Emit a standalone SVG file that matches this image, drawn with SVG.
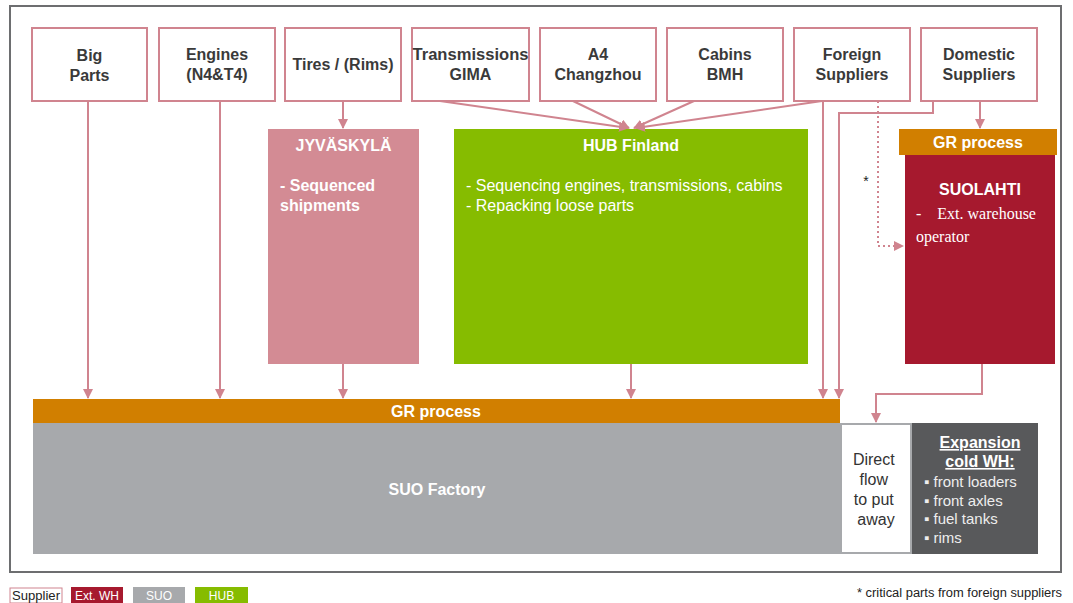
<svg xmlns="http://www.w3.org/2000/svg" width="1073" height="603" viewBox="0 0 1073 603">
  <defs>
    <marker id="arrow" viewBox="0 0 10 10" refX="9" refY="5" markerWidth="10" markerHeight="10" markerUnits="userSpaceOnUse" orient="auto">
      <path d="M0,0 L10,5 L0,10 z" fill="#d0848f"/>
    </marker>
    <style>
      .supplier rect { fill: #ffffff; stroke: #d0848f; stroke-width: 2; }
      .lbl { font-family: "Liberation Sans", Arial, sans-serif; font-weight: bold; font-size: 16px; fill: #3a3a3a; text-anchor: middle; }
      .wt { font-family: "Liberation Sans", Arial, sans-serif; font-weight: bold; font-size: 16px; fill: #ffffff; }
      .wr { font-family: "Liberation Sans", Arial, sans-serif; font-size: 16px; fill: #ffffff; }
      .conn { fill: none; stroke: #d0848f; stroke-width: 2; }
      .dot { fill: none; stroke: #d0848f; stroke-width: 2; stroke-dasharray: 2 3; }
      .leg { font-family: "Liberation Sans", Arial, sans-serif; font-size: 12px; text-anchor: middle; }
    </style>
  </defs>

  <rect x="0" y="0" width="1073" height="603" fill="#ffffff"/>
  <!-- outer frame -->
  <rect x="10" y="6" width="1051" height="566" fill="none" stroke="#6d6e70" stroke-width="2"/>

  <!-- supplier boxes -->
  <g id="big-parts" class="supplier">
    <rect x="32" y="28" width="115" height="73"/>
    <text class="lbl" x="89.5" y="61">Big</text>
    <text class="lbl" x="89.5" y="81">Parts</text>
  </g>
  <g id="engines" class="supplier">
    <rect x="159" y="28" width="116" height="73"/>
    <text class="lbl" x="217" y="60">Engines</text>
    <text class="lbl" x="217" y="80">(N4&amp;T4)</text>
  </g>
  <g id="tires" class="supplier">
    <rect x="285" y="28" width="116" height="73"/>
    <text class="lbl" x="343" y="70">Tires / (Rims)</text>
  </g>
  <g id="transmissions" class="supplier">
    <rect x="412" y="28" width="117" height="73"/>
    <text class="lbl" x="470.5" y="60" textLength="116" lengthAdjust="spacingAndGlyphs">Transmissions</text>
    <text class="lbl" x="470.5" y="80">GIMA</text>
  </g>
  <g id="a4" class="supplier">
    <rect x="540" y="28" width="116" height="73"/>
    <text class="lbl" x="598" y="60">A4</text>
    <text class="lbl" x="598" y="80">Changzhou</text>
  </g>
  <g id="cabins" class="supplier">
    <rect x="667" y="28" width="116" height="73"/>
    <text class="lbl" x="725" y="60">Cabins</text>
    <text class="lbl" x="725" y="80">BMH</text>
  </g>
  <g id="foreign" class="supplier">
    <rect x="794" y="28" width="116" height="73"/>
    <text class="lbl" x="852" y="60">Foreign</text>
    <text class="lbl" x="852" y="80">Suppliers</text>
  </g>
  <g id="domestic" class="supplier">
    <rect x="921" y="28" width="116" height="73"/>
    <text class="lbl" x="979" y="60">Domestic</text>
    <text class="lbl" x="979" y="80">Suppliers</text>
  </g>

  <!-- JYVÄSKYLÄ -->
  <g id="jyvaskyla">
    <rect x="268" y="129" width="151" height="235" fill="#d38b94"/>
    <text class="wt" x="343.5" y="151" text-anchor="middle">JYVÄSKYLÄ</text>
    <text class="wt" x="280" y="191">- Sequenced</text>
    <text class="wt" x="280" y="211">shipments</text>
  </g>

  <!-- HUB Finland -->
  <g id="hub-finland">
    <rect x="454" y="129" width="354" height="235" fill="#86bc00"/>
    <text class="wt" x="631" y="151" text-anchor="middle">HUB Finland</text>
    <text class="wr" x="466" y="191">- Sequencing engines, transmissions, cabins</text>
    <text class="wr" x="466" y="211">- Repacking loose parts</text>
  </g>

  <!-- SUOLAHTI with its GR process -->
  <g id="suolahti">
    <rect x="899" y="129" width="158" height="26" fill="#d17f00"/>
    <text class="wt" x="978" y="148" text-anchor="middle">GR process</text>
    <rect x="905" y="155" width="150" height="209" fill="#a6192e"/>
    <text class="wt" x="980" y="195" text-anchor="middle">SUOLAHTI</text>
    <text x="916" y="219" font-family="'Liberation Serif', 'Times New Roman', serif" font-size="16" fill="#ffffff" xml:space="preserve">-    Ext. warehouse</text>
    <text x="916" y="242" font-family="'Liberation Serif', 'Times New Roman', serif" font-size="16" fill="#ffffff">operator</text>
  </g>

  <!-- SUO factory with GR process -->
  <g id="suo-factory">
    <rect x="33" y="399" width="807" height="24" fill="#d17f00"/>
    <text class="wt" x="436" y="417" text-anchor="middle">GR process</text>
    <rect x="33" y="423" width="807" height="131" fill="#a7a9ac"/>
    <text class="wt" x="437" y="495" text-anchor="middle">SUO Factory</text>
  </g>

  <!-- direct flow -->
  <g id="direct-flow">
    <rect x="841" y="424" width="70" height="129" fill="#ffffff" stroke="#a7a9ac" stroke-width="2"/>
    <text font-family="'Liberation Sans', Arial, sans-serif" font-size="16" fill="#333333" text-anchor="middle">
      <tspan x="876" y="465">Direct</tspan>
      <tspan x="876" y="485">flow</tspan>
      <tspan x="876" y="505">to put</tspan>
      <tspan x="876" y="525">away</tspan>
    </text>
  </g>

  <!-- expansion cold warehouse -->
  <g id="expansion-cold-wh">
    <rect x="912" y="423" width="126" height="131" fill="#58595b"/>
    <text class="wt" x="980" y="448" text-anchor="middle" text-decoration="underline" fill="#eeeeee">Expansion</text>
    <text class="wt" x="980" y="467" text-anchor="middle" text-decoration="underline" fill="#eeeeee">cold WH:</text>
    <text font-family="'Liberation Sans', Arial, sans-serif" font-size="15" fill="#eeeeee">
      <tspan x="924" y="487">▪ front loaders</tspan>
      <tspan x="924" y="506">▪ front axles</tspan>
      <tspan x="924" y="524">▪ fuel tanks</tspan>
      <tspan x="924" y="543">▪ rims</tspan>
    </text>
  </g>

  <!-- connectors -->
  <g id="connectors">
    <line class="conn" x1="88" y1="101" x2="88" y2="398" marker-end="url(#arrow)"/>
    <line class="conn" x1="220" y1="101" x2="220" y2="398" marker-end="url(#arrow)"/>
    <line class="conn" x1="343" y1="101" x2="343" y2="128" marker-end="url(#arrow)"/>
    <line class="conn" x1="343" y1="364" x2="343" y2="398" marker-end="url(#arrow)"/>
    <line class="conn" x1="631" y1="364" x2="631" y2="398" marker-end="url(#arrow)"/>
    <line class="conn" x1="440" y1="101" x2="628" y2="128" marker-end="url(#arrow)"/>
    <line class="conn" x1="573" y1="101" x2="629" y2="128" marker-end="url(#arrow)"/>
    <line class="conn" x1="694" y1="101" x2="634" y2="128" marker-end="url(#arrow)"/>
    <line class="conn" x1="822" y1="101" x2="636" y2="128" marker-end="url(#arrow)"/>
    <line class="conn" x1="823" y1="101" x2="823" y2="398" marker-end="url(#arrow)"/>
    <polyline class="conn" points="933,101 933,113 839,113 839,398" marker-end="url(#arrow)"/>
    <line class="conn" x1="980" y1="101" x2="980" y2="128" marker-end="url(#arrow)"/>
    <polyline class="dot" points="878,101 878,246 903,246"/>
    <path d="M894,241 L904,246 L894,251 z" fill="#d0848f"/>
    <polyline class="conn" points="982,364 982,394 876,394 876,422" marker-end="url(#arrow)"/>
    <text x="866" y="186" font-family="'Liberation Sans', Arial, sans-serif" font-size="14" fill="#222222" text-anchor="middle">*</text>
  </g>

  <!-- legend -->
  <g id="legend">
    <rect x="10" y="588" width="52" height="15" fill="#ffffff" stroke="#d0848f" stroke-width="1"/>
    <text class="leg" x="36" y="600" fill="#222222" textLength="48" lengthAdjust="spacingAndGlyphs">Supplier</text>
    <rect x="71" y="587" width="52" height="16" fill="#a6192e"/>
    <text class="leg" x="97" y="600" fill="#ffffff">Ext. WH</text>
    <rect x="133" y="587" width="52" height="16" fill="#a7a9ac"/>
    <text class="leg" x="159" y="600" fill="#ffffff">SUO</text>
    <rect x="195" y="587" width="53" height="16" fill="#86bc00"/>
    <text class="leg" x="221.5" y="600" fill="#ffffff">HUB</text>
  </g>
  <text x="1062" y="597" font-family="'Liberation Sans', Arial, sans-serif" font-size="12" fill="#222222" text-anchor="end" textLength="205" lengthAdjust="spacingAndGlyphs">* critical parts from foreign suppliers</text>
</svg>
